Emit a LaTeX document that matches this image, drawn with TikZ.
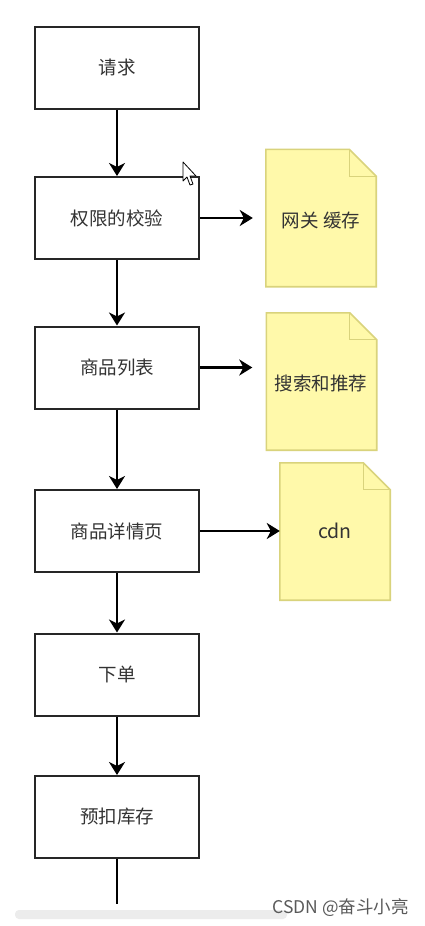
\documentclass[tikz,border=0pt]{standalone}
\usepackage{fontspec}
\setmainfont{Noto Sans CJK SC}
\usetikzlibrary{arrows.meta,calc}
\definecolor{boxline}{HTML}{262626}
\definecolor{txt}{HTML}{333333}
\definecolor{notefill}{HTML}{FFF9AA}
\definecolor{noteline}{HTML}{D9D37C}
\definecolor{wm}{HTML}{5A5A5A}
\definecolor{sbar}{HTML}{ECECEC}
\tikzset{
  stepbox/.style={draw=boxline, line width=2pt, fill=white, minimum width=164pt, minimum height=82pt, inner sep=0pt, text=txt, font=\fontsize{18.5}{22}\selectfont},
  notebox/.style={inner sep=0pt, minimum width=110pt, minimum height=137pt, text=txt, font=\fontsize{18.5}{22}\selectfont},
  noteshape/.style={draw=noteline, line width=1.6pt, fill=notefill, line join=miter},
  arr/.style={draw=black, line width=2.2pt, -{Stealth[length=13pt,width=16pt,inset=4pt]}},
  plainline/.style={draw=black, line width=2.2pt},
}
\newcommand{\mynote}[1]{%
  \path[noteshape] (#1.north west) -- ([xshift=-27pt]#1.north east) -- ([yshift=-27pt]#1.north east) -- (#1.south east) -- (#1.south west) -- cycle;
  \draw[noteline, line width=1.3pt, line join=miter] ([xshift=-27pt]#1.north east) -- ([xshift=-27pt,yshift=-27pt]#1.north east) -- ([yshift=-27pt]#1.north east);
}
\begin{document}
\begin{tikzpicture}[x=1pt,y=-1pt]
\useasboundingbox[fill=white] (0,0) rectangle (424,926);
% scrollbar
\fill[sbar, rounded corners=4pt] (15,910) rectangle (287,919);
% boxes
\node[stepbox] (b1) at (117,67.5) {请求};
\node[stepbox] (b2) at (117,218) {权限的校验};
\node[stepbox] (b3) at (117,367.5) {商品列表};
\node[stepbox] (b4) at (117,531) {商品详情页};
\node[stepbox] (b5) at (117,674.5) {下单};
\node[stepbox] (b6) at (117,817) {预扣库存};
\coordinate (bend) at (117,904);
% notes
\node[notebox] (d1) at (321,218) {};
\node[notebox] (d2) at (321.5,381.5) {};
\node[notebox] (d3) at (335,531.5) {};
\mynote{d1}
\mynote{d2}
\mynote{d3}
\node[text=txt, font=\fontsize{18.5}{22}\selectfont] (t1) at (321,220) {网关 缓存};
\node[text=txt, font=\fontsize{18.5}{22}\selectfont] (t2) at (321,383) {搜索和推荐};
\node[text=txt, font=\fontsize{19.5}{22}\selectfont] (t3) at (335,531) {cdn};
% vertical connectors
\draw[arr] (b1) -- (b2);
\draw[arr] (b2) -- (b3);
\draw[arr] (b3) -- (b4);
\draw[arr] (b4) -- (b5);
\draw[arr] (b5) -- (b6);
\draw[plainline] (b6) -- (bend);
% horizontal connectors
\draw[arr, shorten >=13pt] (b2.east) -- (b2.east -| d1.west);
\draw[arr, shorten >=14pt] (b3.east) -- (b3.east -| d2.west);
\draw[arr] (b4.east) -- (b4.east -| d3.west);
% cursor
\draw[fill=white, draw=black, line width=0.8pt, line join=round] (183,162) -- (183,181) -- (187,177) -- (190,185) -- (193,184) -- (190,176) -- (196,176) -- cycle;
% watermark
\node[anchor=east, text=wm, font=\fontsize{17.5}{20}\selectfont, inner sep=0pt] (wmk) at (409,908) {CSDN @奋斗小亮};
\end{tikzpicture}
\end{document}
